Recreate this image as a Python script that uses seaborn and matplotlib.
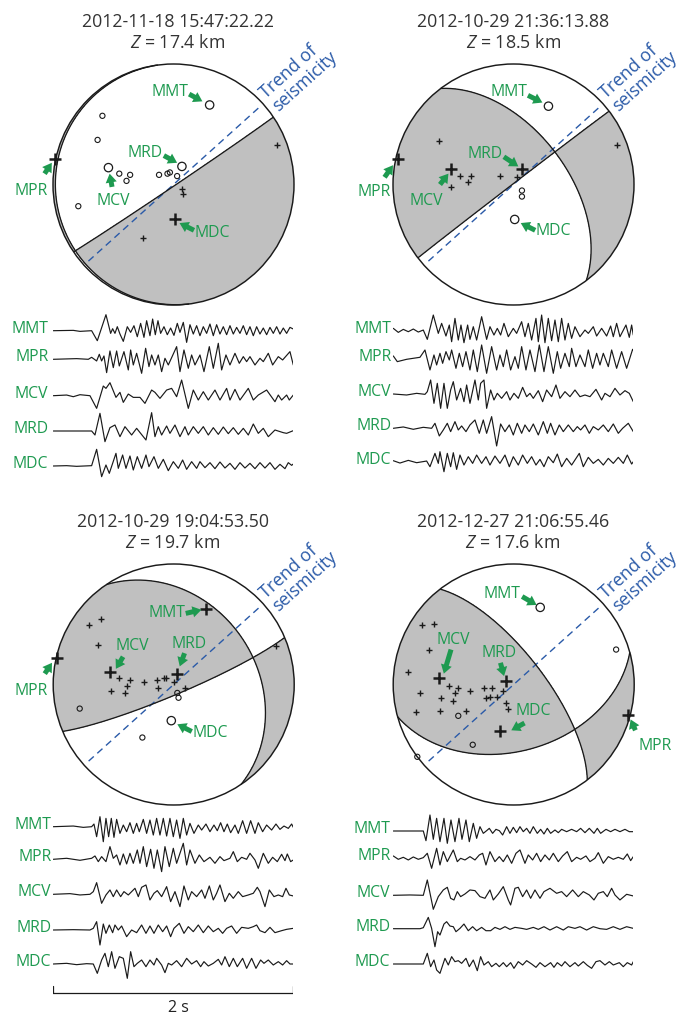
import numpy as np
import matplotlib
matplotlib.use("Agg")
import matplotlib.pyplot as plt
from matplotlib.patches import Circle, FancyArrowPatch, ArrowStyle
import seaborn as sns

sns.set_theme(style="white")
plt.rcParams["font.family"] = ["Open Sans", "DejaVu Sans"]
plt.rcParams["mathtext.fontset"] = "custom"
plt.rcParams["mathtext.it"] = "Open Sans:italic"
plt.rcParams["mathtext.rm"] = "Open Sans"

# ---------------------------------------------------------------- events
EVENT_TIMES = ["2012-11-18 15:47:22.22", "2012-10-29 21:36:13.88",
               "2012-10-29 19:04:53.50", "2012-12-27 21:06:55.46"]
EVENT_DEPTHS = [17.4, 18.5, 19.7, 17.6]

# focal mechanisms (strike, dip, rake of one nodal plane, degrees)
MECH_STRIKE = [56.0, 232.5, 326.0, 74.5]
MECH_DIP = [89.0, 89.5, 32.0, 44.0]
MECH_RAKE = [-88.0, -36.0, 167.0, 29.5]

TREND_AZIMUTH = 48.0  # trend of seismicity, degrees from north

STATIONS = ["MMT", "MPR", "MCV", "MRD", "MDC"]

# named stations on the lower-hemisphere projection (unit radius), polarity +1 / -1
E1_STA_X = [0.30, -0.98, -0.54, 0.07, 0.01]
E1_STA_Y = [0.66, 0.21, 0.14, 0.15, -0.29]
E1_STA_POL = [-1, 1, -1, -1, 1]
E2_STA_X = [0.29, -0.96, -0.52, 0.07, 0.01]
E2_STA_Y = [0.65, 0.21, 0.13, 0.13, -0.29]
E2_STA_POL = [-1, 1, 1, 1, -1]
E3_STA_X = [0.27, -0.97, -0.53, 0.03, -0.02]
E3_STA_Y = [0.63, 0.22, 0.10, 0.09, -0.30]
E3_STA_POL = [1, 1, 1, 1, -1]
E4_STA_X = [0.22, 0.95, -0.62, -0.06, -0.11]
E4_STA_Y = [0.64, -0.25, 0.05, 0.03, -0.39]
E4_STA_POL = [-1, 1, 1, 1, 1]

# other first-motion readings: compressions (up) and dilatations (down)
E1_UP_X = [0.86, 0.07, 0.08, -0.25]
E1_UP_Y = [0.33, -0.04, -0.08, -0.44]
E1_DN_X = [-0.59, -0.63, -0.79, -0.45, -0.36, -0.39, -0.12, -0.05, -0.03, 0.03]
E1_DN_Y = [0.57, 0.37, -0.18, 0.09, 0.08, 0.03, 0.08, 0.09, 0.10, 0.07]

E2_UP_X = [-0.62, -0.44, -0.35, -0.38, -0.52, -0.11, 0.03, 0.86]
E2_UP_Y = [0.36, 0.07, 0.07, 0.02, -0.02, 0.07, 0.06, 0.33]
E2_DN_X = [0.07, 0.07]
E2_DN_Y = [-0.05, -0.10]

E3_UP_X = [-0.70, -0.60, -0.63, -0.45, -0.36, -0.39, -0.52, -0.40, -0.25, -0.14,
           -0.08, -0.06, 0.00, -0.13, 0.09, 0.85]
E3_UP_Y = [0.49, 0.54, 0.33, 0.05, 0.04, -0.01, -0.05, -0.07, 0.02, 0.04,
           0.05, 0.05, 0.02, -0.03, -0.03, 0.32]
E3_DN_X = [-0.78, 0.03, 0.04, -0.26]
E3_DN_Y = [-0.20, -0.07, -0.11, -0.44]

E4_UP_X = [-0.76, -0.66, -0.70, -0.88, -0.78, -0.54, -0.46, -0.49, -0.36, -0.60, -0.50,
           -0.81, -0.61, -0.40, -0.25, -0.18, -0.23, -0.20, -0.14, -0.09, -0.06, -0.05]
E4_UP_Y = [0.49, 0.50, 0.29, 0.10, -0.07, -0.01, -0.03, -0.07, -0.05, -0.11, -0.14,
           -0.23, -0.22, -0.22, -0.03, -0.03, -0.11, -0.10, -0.10, -0.05, -0.15, -0.20]
E4_DN_X = [0.85, -0.46, -0.34, -0.80]
E4_DN_Y = [0.29, -0.26, -0.50, -0.60]

# ---------------------------------------------------------------- seismograms
# picked extrema: sample index (360 samples/s) and amplitude (counts)
FS = 360.0

E1_MMT_I = [0, 60, 80, 115, 132, 158, 172, 178, 185, 192, 200, 210, 222, 232, 242, 252, 262, 272, 280, 290,
            298, 306, 314, 322, 332, 342, 352, 362, 372, 380, 390, 400, 410, 420, 430, 440, 450, 460, 470, 480,
            490, 500, 510, 520, 530, 540, 550, 560, 570, 580, 590, 600, 610, 620, 630, 640, 650, 660, 670, 680,
            690, 700, 710, 720]
E1_MMT_A = [0, 1, -2, 0, -30, 48, -8, 6, -8, 12, -10, -32, 12, -5, 15, -18, 22, -20, 30, -15,
            35, -12, 30, -8, 12, -12, 8, -14, 22, -5, 25, -35, 18, -10, 15, -15, 12, -8, 20, -15,
            18, -10, 12, -12, 15, -10, 10, -8, 15, -12, 12, -15, 12, -10, 8, -12, 10, -8, 12, -10,
            8, -8, 10, 5]
E1_MPR_I = [0, 70, 105, 115, 130, 138, 145, 152, 160, 170, 180, 190, 198, 212, 225, 232, 240, 250, 265, 277,
            287, 295, 305, 315, 325, 335, 345, 370, 380, 392, 405, 415, 425, 440, 452, 468, 480, 495, 505, 518,
            530, 545, 558, 570, 580, 590, 605, 620, 630, 645, 658, 675, 688, 710, 720]
E1_MPR_A = [0, 2, 0, 6, -5, 15, -5, 10, -40, 25, -25, 25, -20, 23, -32, 28, -17, 18, -42, 33,
            -22, 13, -17, 13, -37, 3, -17, 38, -37, 28, -27, 13, -17, 13, -37, 38, -27, 48, -32, 13,
            -17, 18, -12, 8, -7, 8, -17, 3, -7, 18, -17, 8, -2, 23, -17]
E1_MCV_I = [0, 40, 60, 80, 110, 130, 150, 158, 170, 188, 200, 210, 225, 240, 260, 275, 295, 305, 320, 340,
            355, 370, 385, 405, 420, 435, 450, 465, 485, 500, 520, 530, 545, 560, 585, 600, 615, 640, 665, 675,
            685, 700, 708, 720]
E1_MCV_A = [0, 2, -3, 3, 0, -38, 29, 22, 39, -5, 10, -20, 5, -5, -5, -23, 17, 10, -8, 17,
            22, -3, 47, -38, 17, -13, 12, -13, 17, -13, 22, -13, 19, -13, 22, -13, 2, 17, -18, 2,
            -13, 2, -13, 2]
E1_MRD_I = [0, 115, 125, 140, 155, 170, 185, 200, 215, 235, 250, 278, 295, 305, 315, 325, 340, 350, 365, 380,
            395, 405, 420, 435, 450, 465, 480, 495, 510, 525, 540, 555, 570, 585, 600, 615, 630, 645, 665, 690,
            700, 720]
E1_MRD_A = [0, 0, -12, 53, -32, 10, 18, -17, 13, -12, 8, -27, 55, -17, 13, -12, 15, -7, 18, -17,
            13, -12, 13, -7, 13, -12, 10, -10, 12, -8, 10, -10, 8, -12, 21, -7, 8, -17, 3, -5,
            -7, 1]
E1_MDC_I = [0, 40, 70, 115, 130, 145, 158, 168, 188, 195, 208, 218, 230, 240, 252, 265, 278, 287, 302, 315,
            330, 345, 360, 375, 388, 400, 415, 430, 440, 455, 470, 485, 500, 515, 530, 545, 560, 575, 590, 605,
            620, 635, 650, 665, 680, 695, 705, 715, 720]
E1_MDC_A = [0, 1, -1, 1, 50, -32, 3, -22, 38, -7, 33, -7, 30, -12, 28, -7, 33, -2, 28, -7,
            20, -14, 13, -7, 18, -10, 13, -7, 13, -5, 10, -8, 12, -6, 8, -10, 10, -6, 8, -8,
            10, -6, 10, -10, 5, -8, 10, 2, 6]

E2_MMT_I = [0, 15, 30, 45, 60, 75, 90, 102, 120, 135, 145, 158, 168, 175, 185, 195, 203, 212, 223, 230,
            240, 250, 265, 280, 290, 302, 312, 322, 332, 345, 360, 370, 385, 395, 405, 415, 428, 435, 445, 455,
            465, 475, 485, 495, 505, 515, 525, 535, 545, 560, 575, 585, 600, 610, 625, 640, 652, 660, 670, 680,
            698, 708, 715, 720]
E2_MMT_A = [7, -5, 4, -3, 5, -4, 2, -26, 47, -8, 22, -16, 17, -33, 37, -28, 17, -36, 17, -26,
            12, -28, 42, -26, 12, -13, 7, -13, 22, -18, 7, -8, 27, -18, 22, -28, 37, -33, 47, -36,
            37, -30, 32, -33, 37, -28, 22, -23, 12, -18, 2, -8, 12, -16, 7, -16, 14, -18, 22, -18,
            17, -20, 17, -13]
E2_MPR_I = [0, 12, 40, 80, 95, 110, 122, 130, 140, 148, 158, 168, 175, 188, 198, 208, 218, 230, 240, 252,
            265, 280, 295, 310, 320, 330, 340, 352, 365, 375, 385, 398, 410, 425, 438, 452, 465, 480, 492, 502,
            515, 528, 535, 548, 560, 575, 585, 598, 610, 620, 630, 645, 655, 670, 685, 700, 718, 720]
E2_MPR_A = [10, -7, 0, 6, 28, -32, 13, -17, 18, -12, 23, -2, 28, -27, 18, -22, 23, -32, 28, -37,
            43, -42, 38, -32, 13, -22, 28, -32, 8, -27, 38, -32, 28, -37, 43, -37, 38, -42, 23, -27,
            18, -22, 33, -22, 13, -22, 28, -27, 18, -17, 18, -22, 28, -27, 23, -27, 30, 28]
E2_MCV_I = [0, 40, 70, 95, 102, 112, 122, 132, 142, 152, 162, 172, 180, 190, 202, 212, 220, 230, 245, 255,
            262, 272, 280, 292, 302, 312, 325, 340, 350, 362, 375, 388, 400, 410, 420, 435, 448, 460, 475, 488,
            500, 515, 530, 545, 560, 575, 590, 608, 625, 635, 650, 665, 680, 695, 708, 720]
E2_MCV_A = [0, -3, 2, -1, 7, 42, -28, 32, -43, 32, -43, 12, 37, -18, 17, -23, 27, -28, 42, -18,
            32, 42, -43, 12, -18, 2, -13, 7, -18, 2, -13, 20, -8, 2, -13, 10, -23, 12, -8, 27,
            -13, 7, -8, 12, -8, -3, -8, 14, -18, 2, -8, 17, -3, 10, 2, -23]
E2_MRD_I = [0, 30, 60, 90, 115, 125, 138, 150, 162, 172, 185, 195, 205, 218, 230, 245, 258, 270, 280, 295,
            310, 322, 335, 348, 360, 372, 385, 395, 408, 420, 435, 450, 462, 472, 485, 498, 510, 525, 540, 552,
            562, 575, 588, 600, 615, 630, 645, 660, 675, 688, 705, 720]
E2_MRD_A = [0, 4, -3, 3, 0, 15, -23, -5, 15, -10, 20, -5, 7, -10, 10, 25, -15, 25, -15, 35,
            -53, 13, -10, 10, -20, 15, -15, 10, -10, 13, -20, 20, -15, 15, -20, 10, -10, 10, -10, 5,
            -5, 10, -15, 5, -5, 10, -10, 13, -15, 0, 15, -10]
E2_MDC_I = [0, 20, 45, 70, 100, 110, 125, 135, 140, 152, 162, 172, 180, 190, 200, 212, 225, 238, 250, 265,
            278, 290, 305, 320, 335, 348, 360, 375, 388, 402, 415, 428, 440, 452, 465, 480, 492, 505, 520, 535,
            558, 570, 585, 600, 615, 630, 645, 660, 675, 690, 702, 715, 720]
E2_MDC_A = [3, -4, 4, -3, 2, -15, 25, -5, 30, -30, 25, -15, 27, -23, 20, -10, 15, -5, 20, -5,
            15, -10, 17, -5, 20, -15, 15, -10, 20, -5, 15, -10, 7, -15, 15, -3, 23, -15, 10, -10,
            25, -15, 13, -5, 7, -10, 10, -5, 13, -5, 20, -7, 0]

E3_MMT_I = [0, 60, 90, 115, 122, 130, 140, 150, 158, 166, 174, 182, 190, 200, 210, 220, 230, 240, 250, 258,
            270, 280, 290, 300, 310, 320, 330, 340, 350, 360, 370, 380, 390, 400, 410, 422, 435, 445, 458, 470,
            482, 492, 502, 512, 522, 532, 545, 555, 568, 580, 592, 605, 615, 628, 640, 655, 668, 680, 692, 705,
            715, 720]
E3_MMT_A = [0, 2, -2, 0, 8, -30, 30, -45, 25, -30, 25, -32, 22, -20, 5, -15, 12, -20, 10, -15,
            22, -20, 20, -25, 25, -25, 25, -28, 25, -30, 20, -35, 25, -25, 10, -20, 5, -10, 8, -15,
            5, -12, 12, -15, 8, -18, 5, -20, 18, -20, 18, -20, 12, -15, 5, -10, 8, -8, 2, -5,
            8, -2]
E3_MPR_I = [0, 40, 80, 115, 125, 135, 145, 158, 170, 180, 190, 200, 210, 220, 230, 240, 252, 260, 270, 280,
            292, 302, 312, 325, 335, 348, 360, 370, 390, 400, 410, 425, 438, 452, 470, 485, 500, 512, 530, 540,
            552, 565, 580, 590, 605, 615, 630, 645, 658, 672, 685, 695, 702, 712, 720]
E3_MPR_A = [0, 3, -3, 3, 10, -7, 8, -7, 38, 3, 13, -17, 16, -14, 18, -12, 28, -12, 38, -22,
            30, -27, 28, -37, 38, -22, 33, -12, 48, -17, 28, -12, 13, -7, 6, -12, 8, -4, 3, 23,
            -7, 6, 0, 18, -2, -27, 18, -12, 6, -7, 15, -4, 16, -7, -2]
E3_MCV_I = [0, 50, 80, 110, 120, 130, 145, 158, 170, 180, 190, 202, 212, 225, 235, 245, 255, 265, 278, 290,
            302, 312, 325, 340, 352, 365, 380, 392, 405, 415, 430, 445, 455, 468, 480, 490, 500, 515, 528, 540,
            555, 568, 585, 600, 612, 620, 635, 648, 662, 675, 688, 698, 708, 720]
E3_MCV_A = [0, 2, -2, 0, 8, 35, -27, -2, 13, -7, 13, -7, 8, -2, 8, 18, -7, 21, 28, -17,
            3, 11, -7, 23, -22, 8, -37, 25, -17, 8, -7, 13, -12, 25, -17, 3, 28, -22, 3, -12,
            8, -7, -2, 3, 21, 8, -37, 13, -7, -2, -7, 18, -2, -5]
E3_MRD_I = [0, 60, 110, 120, 130, 140, 150, 158, 168, 178, 185, 195, 205, 220, 235, 250, 265, 278, 290, 302,
            315, 328, 340, 352, 362, 378, 392, 405, 420, 435, 450, 465, 480, 495, 508, 520, 535, 550, 565, 585,
            600, 610, 620, 635, 650, 665, 685, 700, 720]
E3_MRD_A = [0, 1, 0, 5, 25, -45, 18, -10, 15, -8, 15, 0, 12, -20, 0, -8, 15, -10, 12, -10,
            15, -5, 12, -20, 5, 20, -10, 10, -5, 15, -8, 12, -5, 5, -10, 5, 12, -10, 8, 5,
            10, 15, -2, -8, 8, -8, -2, 2, 5]
E3_MDC_I = [0, 40, 70, 100, 120, 132, 145, 155, 165, 175, 185, 198, 210, 222, 232, 242, 252, 265, 278, 290,
            302, 310, 325, 335, 345, 355, 370, 385, 400, 415, 430, 442, 452, 465, 480, 495, 505, 515, 528, 540,
            552, 568, 580, 595, 608, 622, 632, 645, 660, 675, 688, 700, 710, 720]
E3_MDC_A = [0, 2, -2, 1, 0, -28, 12, 32, -8, 37, -13, 22, 17, -43, 37, -8, 2, 12, -8, 12,
            -3, 17, -3, -26, 2, -3, 10, -8, 17, 0, 10, -8, 7, -6, 2, 14, -3, 22, -8, 17,
            -8, 17, -13, 17, -13, 12, 2, 12, -3, 7, -3, 10, 0, 0]

E4_MMT_I = [0, 90, 98, 110, 120, 130, 140, 152, 162, 173, 185, 197, 206, 218, 228, 240, 250, 260, 270, 280,
            288, 298, 308, 318, 328, 340, 350, 360, 370, 380, 390, 400, 410, 420, 432, 442, 452, 462, 472, 485,
            495, 505, 520, 535, 550, 562, 575, 588, 602, 612, 622, 638, 652, 665, 680, 695, 708, 720]
E4_MMT_A = [0, 0, -29, 48, -25, 38, -32, 38, -37, 33, -32, 38, -25, 33, -32, 23, -22, 13, -7, 1,
            8, -7, 5, 1, -12, 13, -7, 11, -5, 13, -2, 8, -7, 13, -7, 5, -9, 8, -7, 3,
            -5, 5, -2, 5, -2, 8, -5, 8, -7, 8, -7, 5, -2, 5, -2, 5, -2, -2]
E4_MPR_I = [0, 15, 30, 45, 60, 75, 90, 102, 115, 130, 140, 150, 162, 180, 192, 202, 215, 230, 245, 258,
            268, 278, 290, 305, 318, 330, 342, 355, 368, 380, 395, 405, 418, 430, 442, 455, 468, 480, 495, 508,
            522, 535, 550, 562, 578, 590, 605, 615, 630, 645, 660, 675, 690, 702, 712, 720]
E4_MPR_A = [7, -3, 3, -5, 4, -3, 2, 15, -30, 30, -20, 20, -10, 25, -10, 0, -5, 5, -5, 10,
            15, -20, 20, -10, 5, -10, 10, -15, 15, 25, -15, 10, -5, 15, -10, 10, -5, 15, -10, 7,
            20, -10, 3, -3, 7, -10, 0, 17, -15, 5, -3, 3, -3, 13, -7, 5]
E4_MCV_I = [0, 50, 90, 102, 120, 135, 150, 162, 172, 182, 192, 202, 215, 230, 245, 260, 275, 290, 300, 315,
            330, 345, 352, 365, 375, 388, 400, 412, 425, 440, 452, 470, 490, 505, 520, 538, 555, 570, 588, 602,
            615, 630, 642, 655, 665, 680, 700, 720]
E4_MCV_A = [0, 1, 0, 46, -42, -4, 16, 24, -9, -14, 11, -4, 4, 16, 14, -4, -9, 16, -14, 4,
            26, -14, -29, 21, 24, -4, 16, -9, 16, -9, 11, 21, 6, 11, -4, 16, -4, 11, 1, -14,
            6, 11, -4, 21, 1, -14, 3, -2]
E4_MRD_I = [0, 80, 90, 105, 115, 125, 133, 140, 152, 160, 170, 180, 188, 200, 212, 225, 238, 250, 265, 278,
            292, 305, 320, 335, 350, 365, 385, 400, 420, 435, 452, 470, 490, 510, 525, 545, 560, 580, 600, 620,
            640, 660, 680, 700, 720]
E4_MRD_A = [0, 0, 3, 34, 1, -54, -9, -19, 14, 21, 8, 6, -9, 1, 14, -6, 6, -6, 4, -6,
            -6, 4, -2, 6, -2, 4, 1, -2, 4, -2, 6, -4, 6, -4, 6, 1, 6, -4, 6, 0,
            -2, 6, -2, 6, 1]
E4_MDC_I = [0, 90, 102, 112, 122, 130, 140, 155, 165, 175, 185, 195, 205, 218, 228, 240, 252, 262, 272, 285,
            295, 308, 318, 330, 340, 352, 362, 375, 388, 400, 415, 428, 440, 455, 472, 482, 492, 505, 515, 530,
            545, 555, 570, 582, 595, 608, 620, 635, 648, 660, 678, 690, 702, 715, 720]
E4_MDC_A = [0, 0, 32, -8, 12, -18, -28, 17, -3, 22, 7, 10, 2, 17, -8, 12, -20, 22, -3, 7,
            -8, 2, -8, 4, -8, 4, -13, 7, -3, 10, 0, -10, 4, -8, 4, -10, 4, -6, 7, -8,
            4, -6, 7, -4, -13, 7, 10, -3, 7, -3, 4, -8, 4, -3, 7]

SCALE_BAR_S = 2.0

# ---------------------------------------------------------------- styling / layout
W, H = 679, 1014
GRAY = "#c0c0c0"
GREEN = "#1e9a50"
BLUE = "#2a5aa8"
TITLE_COLOR = "#333333"
R_PX = 120.5
CENTERS = [(173.5, 184.5), (513.5, 184.5), (173.7, 684.5), (513.7, 684.5)]
TITLE_X = [178.0, 513.3, 173.0, 513.0]
TITLE_Y = [(21.7, 42.7), (21.7, 42.7), (521.7, 542.7), (521.7, 542.7)]
WAVE_X0 = [53.3, 393.3, 53.3, 393.3]
WAVE_BASE = [[330.7, 359.3, 395.7, 431.0, 466.0],
             [330.7, 359.3, 394.0, 428.3, 461.7],
             [826.7, 859.3, 894.3, 930.0, 964.0],
             [831.0, 858.3, 895.3, 928.7, 964.0]]
LABEL_GAP = [5.0, 2.0, 2.0, 3.0]
GAIN = 1.0 / 3.0  # px per count
PX_PER_S = 120.0
LABEL_SIZE = 11.3

# station label placement on each ball: text position, arrow tail, arrow head
LABELS = [
    {"MMT": ((-0.03, 0.77), (0.13, 0.75), (0.24, 0.69)),
     "MRD": ((-0.24, 0.26), (-0.08, 0.24), (0.03, 0.18)),
     "MCV": ((-0.50, -0.14), (-0.51, -0.02), (-0.53, 0.09)),
     "MDC": ((0.32, -0.40), (0.17, -0.38), (0.05, -0.32)),
     "MPR": ((-1.18, -0.05), (-1.07, 0.09), (-1.01, 0.18))},
    {"MMT": ((-0.04, 0.77), (0.12, 0.74), (0.24, 0.68)),
     "MRD": ((-0.24, 0.25), (-0.08, 0.23), (0.04, 0.15)),
     "MCV": ((-0.72, -0.14), (-0.61, 0.00), (-0.54, 0.09)),
     "MDC": ((0.33, -0.39), (0.18, -0.38), (0.06, -0.32)),
     "MPR": ((-1.16, -0.06), (-1.07, 0.06), (-1.00, 0.16))},
    {"MMT": ((-0.06, 0.59), (0.10, 0.59), (0.23, 0.62)),
     "MCV": ((-0.34, 0.32), (-0.42, 0.23), (-0.48, 0.13)),
     "MRD": ((0.13, 0.34), (0.09, 0.26), (0.05, 0.15)),
     "MDC": ((0.30, -0.40), (0.15, -0.39), (0.03, -0.33)),
     "MPR": ((-1.18, -0.05), (-1.07, 0.09), (-1.01, 0.18))},
    {"MMT": ((-0.10, 0.75), (0.07, 0.73), (0.19, 0.66)),
     "MCV": ((-0.50, 0.37), (-0.52, 0.29), (-0.58, 0.09)),
     "MRD": ((-0.12, 0.26), (-0.11, 0.18), (-0.08, 0.07)),
     "MDC": ((0.16, -0.22), (0.09, -0.32), (-0.02, -0.38)),
     "MPR": ((1.17, -0.51), (1.01, -0.38), (0.97, -0.29))},
]

STA_X = [E1_STA_X, E2_STA_X, E3_STA_X, E4_STA_X]
STA_Y = [E1_STA_Y, E2_STA_Y, E3_STA_Y, E4_STA_Y]
STA_POL = [E1_STA_POL, E2_STA_POL, E3_STA_POL, E4_STA_POL]
UP = [(E1_UP_X, E1_UP_Y), (E2_UP_X, E2_UP_Y), (E3_UP_X, E3_UP_Y), (E4_UP_X, E4_UP_Y)]
DN = [(E1_DN_X, E1_DN_Y), (E2_DN_X, E2_DN_Y), (E3_DN_X, E3_DN_Y), (E4_DN_X, E4_DN_Y)]
TRACES = [
    [(E1_MMT_I, E1_MMT_A), (E1_MPR_I, E1_MPR_A), (E1_MCV_I, E1_MCV_A), (E1_MRD_I, E1_MRD_A), (E1_MDC_I, E1_MDC_A)],
    [(E2_MMT_I, E2_MMT_A), (E2_MPR_I, E2_MPR_A), (E2_MCV_I, E2_MCV_A), (E2_MRD_I, E2_MRD_A), (E2_MDC_I, E2_MDC_A)],
    [(E3_MMT_I, E3_MMT_A), (E3_MPR_I, E3_MPR_A), (E3_MCV_I, E3_MCV_A), (E3_MRD_I, E3_MRD_A), (E3_MDC_I, E3_MDC_A)],
    [(E4_MMT_I, E4_MMT_A), (E4_MPR_I, E4_MPR_A), (E4_MCV_I, E4_MCV_A), (E4_MRD_I, E4_MRD_A), (E4_MDC_I, E4_MDC_A)],
]


# ---------------------------------------------------------------- geometry helpers
def fault_vectors(strike, dip, rake):
    """Fault normal and slip vectors (north, east, down)."""
    f, d, l = np.radians([strike, dip, rake])
    n = np.array([-np.sin(d) * np.sin(f), np.sin(d) * np.cos(f), -np.cos(d)])
    s = np.array([np.cos(l) * np.cos(f) + np.cos(d) * np.sin(l) * np.sin(f),
                  np.cos(l) * np.sin(f) - np.cos(d) * np.sin(l) * np.cos(f),
                  -np.sin(l) * np.sin(d)])
    return n, s


def rays(X, Y):
    """Ray directions for points of a Schmidt (equal-area) lower-hemisphere net."""
    r = np.clip(np.hypot(X, Y), 0, 1)
    inc = 2 * np.arcsin(r / np.sqrt(2))
    az = np.arctan2(X, Y)
    return np.sin(inc) * np.cos(az), np.sin(inc) * np.sin(az), np.cos(inc)


def nodal_curve(u):
    """Projection of the plane perpendicular to u."""
    u = u / np.linalg.norm(u)
    a = np.cross(u, [0.0, 0.0, 1.0])
    if np.linalg.norm(a) < 1e-9:
        a = np.array([1.0, 0.0, 0.0])
    a /= np.linalg.norm(a)
    b = np.cross(u, a)
    if b[2] < 0:
        b = -b
    t = np.linspace(0, np.pi, 500)
    v = np.outer(np.cos(t), a) + np.outer(np.sin(t), b)
    inc = np.arccos(np.clip(v[:, 2], -1, 1))
    az = np.arctan2(v[:, 1], v[:, 0])
    r = np.sqrt(2) * np.sin(inc / 2)
    return r * np.sin(az), r * np.cos(az)


fig = plt.figure(figsize=(W / 100, H / 100), dpi=100)


def px_axes(left, top, width, height):
    return fig.add_axes([left / W, 1 - (top + height) / H, width / W, height / H])


ARROW = ArrowStyle.Simple(head_length=0.75, head_width=0.95, tail_width=0.42)
g = np.linspace(-1.03, 1.03, 601)
GX, GY = np.meshgrid(g, g)
RX, RY, RZ = rays(GX, GY)

for k in range(4):
    cx, cy = CENTERS[k]
    half = 1.7 * R_PX
    ax = px_axes(cx - half, cy - half, 2 * half, 2 * half)
    ax.set_xlim(-1.7, 1.7)
    ax.set_ylim(-1.7, 1.7)
    ax.set_axis_off()

    n, s = fault_vectors(MECH_STRIKE[k], MECH_DIP[k], MECH_RAKE[k])
    P = (n[0] * RX + n[1] * RY + n[2] * RZ) * (s[0] * RX + s[1] * RY + s[2] * RZ)
    cs = ax.contourf(GX, GY, P, levels=[0, P.max() + 1], colors=[GRAY], zorder=1)
    cs.set_clip_path(Circle((0, 0), 1, transform=ax.transData))
    for vec in (n, s):
        xs, ys = nodal_curve(vec)
        ax.plot(xs, ys, color="k", lw=0.95, zorder=3, solid_capstyle="butt")
    ax.add_patch(Circle((0, 0), 1, fill=False, ec="k", lw=1.05, zorder=4))

    # trend of seismicity
    az = np.radians(TREND_AZIMUTH)
    rr = np.array([-0.95, 0.96])
    ax.plot(rr * np.sin(az), rr * np.cos(az), color=BLUE, lw=1.0,
            ls=(0, (5.0, 3.4)), zorder=2)
    ax.text(1.037, 0.911, "Trend of\nseismicity", rotation=90 - TREND_AZIMUTH,
            rotation_mode="anchor", ha="center", va="center", multialignment="left",
            color=BLUE, fontsize=12.8, linespacing=1.0, zorder=6)

    # first-motion readings
    ux, uy = UP[k]
    dx, dy = DN[k]
    sns.scatterplot(x=ux, y=uy, marker="+", s=24, color="k", linewidth=1.0,
                    ax=ax, legend=False, zorder=5)
    sns.scatterplot(x=dx, y=dy, marker="o", s=14, facecolor="none", edgecolor="k",
                    linewidth=0.8, ax=ax, legend=False, zorder=5)
    pol = np.array(STA_POL[k])
    sx = np.array(STA_X[k])
    sy = np.array(STA_Y[k])
    sns.scatterplot(x=sx[pol > 0], y=sy[pol > 0], marker="+", s=70, color="k",
                    linewidth=1.8, ax=ax, legend=False, zorder=5)
    sns.scatterplot(x=sx[pol < 0], y=sy[pol < 0], marker="o", s=36, facecolor="none",
                    edgecolor="k", linewidth=0.9, ax=ax, legend=False, zorder=5)

    for name, (txy, tail, head) in LABELS[k].items():
        ax.text(*txy, name, color=GREEN, fontsize=LABEL_SIZE, ha="center", va="center", zorder=6)
        ax.add_patch(FancyArrowPatch(tail, head, arrowstyle=ARROW, mutation_scale=8.5,
                                     color=GREEN, lw=0, shrinkA=0, shrinkB=0, zorder=6))

    # event header
    fig.text(TITLE_X[k] / W, 1 - TITLE_Y[k][0] / H, EVENT_TIMES[k], ha="center",
             va="center", fontsize=12.8, color=TITLE_COLOR)
    fig.text(TITLE_X[k] / W, 1 - TITLE_Y[k][1] / H, f"$Z$ = {EVENT_DEPTHS[k]:.1f} km",
             ha="center", va="center", fontsize=12.8, color=TITLE_COLOR)

    # seismograms
    top = WAVE_BASE[k][0] - 25
    bottom = 1014 if k == 2 else WAVE_BASE[k][-1] + 25
    wax = px_axes(WAVE_X0[k], top, SCALE_BAR_S * PX_PER_S, bottom - top)
    wax.set_xlim(0, SCALE_BAR_S)
    wax.set_ylim(bottom, top)
    wax.set_axis_off()
    for (idx, amp), base, name in zip(TRACES[k], WAVE_BASE[k], STATIONS):
        t = np.asarray(idx) / FS
        y = base - np.asarray(amp) * GAIN
        sns.lineplot(x=t, y=y, ax=wax, color="k", linewidth=0.85, estimator=None,
                     sort=False, legend=False)
        wax.text(-LABEL_GAP[k] / PX_PER_S, base - 2, name, color=GREEN, fontsize=LABEL_SIZE,
                 ha="right", va="center", clip_on=False)
    if k == 2:
        yb = 993.3
        wax.plot([0, SCALE_BAR_S], [yb, yb], color="k", lw=0.9)
        for xe in (0, SCALE_BAR_S):
            wax.plot([xe, xe], [yb - 7, yb], color="k", lw=0.9)
        wax.text(SCALE_BAR_S / 2 + 0.04, 1008, "2 s", ha="center", va="center",
                 fontsize=11.5, color="#222222")

fig.savefig("out.png", dpi=100)
